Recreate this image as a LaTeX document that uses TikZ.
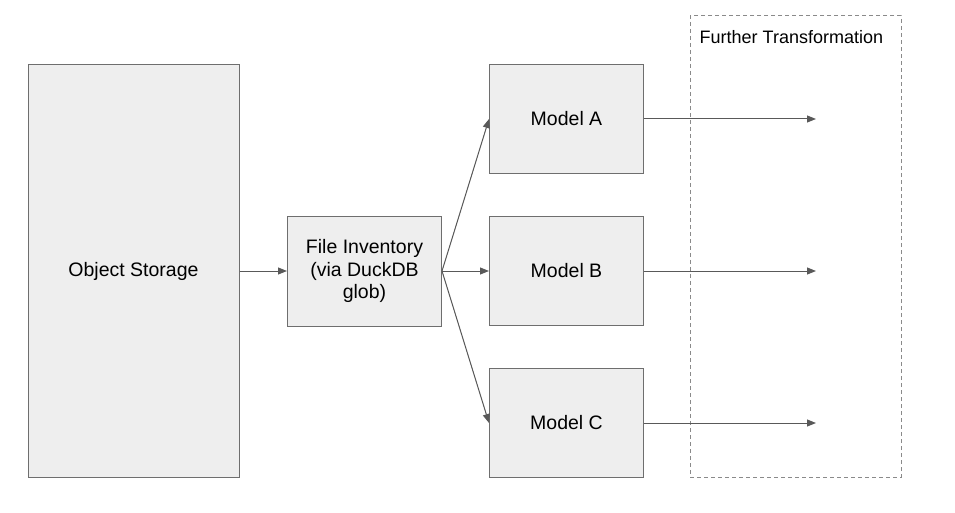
\documentclass[tikz,border=0pt]{standalone}
\usepackage{fontspec}
\setmainfont{Liberation Sans}
\usepackage{tikz}
\usetikzlibrary{arrows.meta, positioning}
\usepackage{xcolor}
\definecolor{boxfill}{HTML}{EEEEEE}
\definecolor{boxline}{HTML}{6E6E6E}
\definecolor{arrowline}{HTML}{595959}
\definecolor{dashline}{HTML}{8A8A8A}

\begin{document}
\begin{tikzpicture}[
    x=1pt, y=-1pt,
    box/.style={rectangle, draw=boxline, fill=boxfill, line width=1pt, align=center, inner sep=0pt},
    arrow/.style={-{Triangle[length=9pt, width=7pt]}, draw=arrowline, fill=arrowline, line width=1pt},
    group/.style={rectangle, draw=dashline, dash pattern=on 4pt off 3pt, line width=1pt, inner sep=0pt},
    tag/.style={font=\fontsize{18}{21}\selectfont, inner sep=0pt},
    node distance=47pt,
    every node/.append style={font=\fontsize{19.5}{22.5}\selectfont}
]
    \useasboundingbox (0,0) rectangle (955,513);

    % Boxes
    \node[box, minimum width=211pt, minimum height=412pt] (storage) at (133.5,271) {Object Storage};
    \node[box, minimum width=154pt, minimum height=110pt, right=47.5pt of storage] (inventory) {File Inventory\\(via DuckDB\\glob)};
    \node[box, minimum width=154pt, minimum height=109pt, right=of inventory] (modelB) {Model B};
    \node[box, minimum width=154pt, minimum height=109pt, above=42pt of modelB] (modelA) {Model A};
    \node[box, minimum width=154pt, minimum height=109pt, below=42pt of modelB] (modelC) {Model C};

    % Further transformation group
    \node[group, minimum width=211pt, minimum height=461pt] (further) at (795.5,246.5) {};
    \node[tag, anchor=west] (furtherlabel) at ([xshift=10pt, yshift=-22pt]further.north west) {Further Transformation};

    % Free ends
    \coordinate[right=172pt of modelA.east] (outA);
    \coordinate[right=172pt of modelB.east] (outB);
    \coordinate[right=172pt of modelC.east] (outC);

    % Arrows
    \draw[arrow] (storage) -- (inventory);
    \draw[arrow] (inventory.east) -- (modelA.west);
    \draw[arrow] (inventory.east) -- (modelB.west);
    \draw[arrow] (inventory.east) -- (modelC.west);
    \draw[arrow] (modelA.east) -- (outA);
    \draw[arrow] (modelB.east) -- (outB);
    \draw[arrow] (modelC.east) -- (outC);
\end{tikzpicture}
\end{document}
